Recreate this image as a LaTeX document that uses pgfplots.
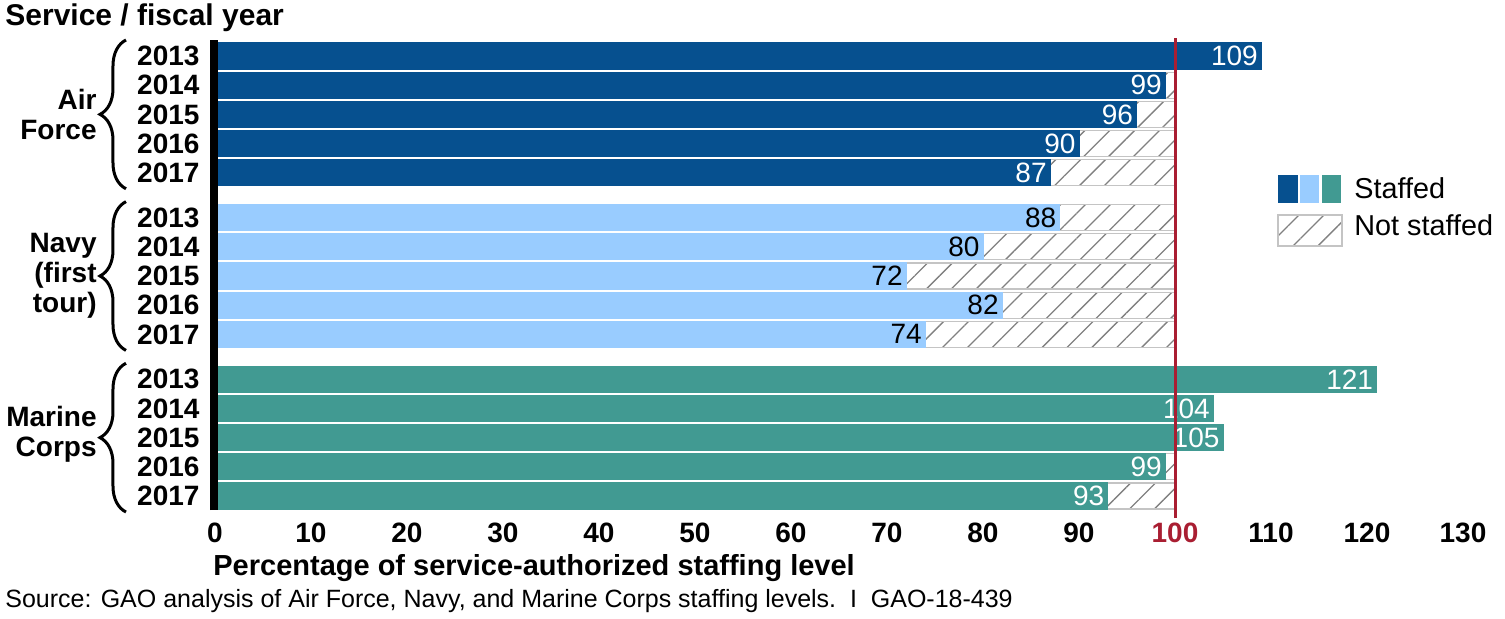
\documentclass[border=0pt]{standalone}
\usepackage{fontspec}
\setmainfont{Liberation Sans}
\usepackage{pgfplots}
\usepackage{pgfplotstable}
\pgfplotsset{compat=1.18}
\usetikzlibrary{patterns.meta,decorations.pathreplacing}

\definecolor{afblue}{HTML}{06508F}
\definecolor{navyblue}{HTML}{99CCFF}
\definecolor{mcteal}{HTML}{419A92}
\definecolor{refred}{HTML}{A91E32}
\definecolor{hatchgray}{HTML}{808080}
\definecolor{edgegray}{HTML}{C4C4C4}

\newcommand{\lbl}{\fontsize{14}{15}\selectfont}

% rows: Air Force 0..-4, Navy -5.54..-9.54, Marine Corps -11.08..-15.08
\pgfplotstableread{
pos val
0 109
-1 99
-2 96
-3 90
-4 87
}\airforce
\pgfplotstableread{
pos val
-5.54 88
-6.54 80
-7.54 72
-8.54 82
-9.54 74
}\navy
\pgfplotstableread{
pos val
-11.08 121
-12.08 104
-13.08 105
-14.08 99
-15.08 93
}\marines
% authorized level (100) behind every row
\pgfplotstableread{
pos full
0 100
-1 100
-2 100
-3 100
-4 100
-5.54 100
-6.54 100
-7.54 100
-8.54 100
-9.54 100
-11.08 100
-12.08 100
-13.08 100
-14.08 100
-15.08 100
}\authorized

\begin{document}
\begin{tikzpicture}
\begin{axis}[
  scale only axis, width=624pt, height=234pt,
  xmin=0, xmax=130, ymin=-15.56, ymax=0.48,
  enlargelimits=false, clip=false,
  xbar, bar width=13pt, bar shift=0pt,
  axis line style={draw=none}, major tick length=0pt,
  xtick={0,10,...,130},
  xticklabels={0,10,20,30,40,50,60,70,80,90,\textcolor{refred}{100},110,120,130},
  ytick={0,-1,-2,-3,-4,-5.54,-6.54,-7.54,-8.54,-9.54,-11.08,-12.08,-13.08,-14.08,-15.08},
  yticklabels={2013,2014,2015,2016,2017,2013,2014,2015,2016,2017,2013,2014,2015,2016,2017},
  tick label style={font=\lbl\bfseries},
  yticklabel style={xshift=-4.2pt},
  xticklabel style={yshift=-3pt},
  nodes near coords style={anchor=east, font=\lbl, inner sep=1.5pt},
]
\addplot[draw=edgegray, line width=0.6pt,
  pattern={Lines[angle=45,distance=8.8pt,line width=0.65pt]}, pattern color=hatchgray]
  table[x=full, y=pos] {\authorized};
\addplot[fill=afblue, draw=afblue, line width=0.6pt, point meta=explicit symbolic,
  nodes near coords, every node near coord/.append style={text=white}]
  table[x=val, y=pos, meta=val] {\airforce};
\addplot[fill=navyblue, draw=navyblue, line width=0.6pt, point meta=explicit symbolic,
  nodes near coords, every node near coord/.append style={text=black}]
  table[x=val, y=pos, meta=val] {\navy};
\addplot[fill=mcteal, draw=mcteal, line width=0.6pt, point meta=explicit symbolic,
  nodes near coords, every node near coord/.append style={text=white}]
  table[x=val, y=pos, meta=val] {\marines};

% service groups
\node[anchor=east, align=right, inner sep=0pt, font=\lbl\bfseries, xshift=-59pt]
  at (axis cs:0,-2) {Air\\Force};
\node[anchor=east, align=right, inner sep=0pt, font=\lbl\bfseries, xshift=-59pt]
  at (axis cs:0,-7.54) {Navy\\(first\\tour)};
\node[anchor=east, align=right, inner sep=0pt, font=\lbl\bfseries, xshift=-59pt]
  at (axis cs:0,-12.95) {Marine\\Corps};
\draw[line width=1.5pt, decorate, decoration={brace, amplitude=13pt}]
  ([xshift=-44.5pt]axis cs:0,-4.55) -- ([xshift=-44.5pt]axis cs:0,0.55);
\draw[line width=1.5pt, decorate, decoration={brace, amplitude=13pt}]
  ([xshift=-44.5pt]axis cs:0,-10.09) -- ([xshift=-44.5pt]axis cs:0,-4.99);
\draw[line width=1.5pt, decorate, decoration={brace, amplitude=13pt}]
  ([xshift=-44.5pt]axis cs:0,-15.63) -- ([xshift=-44.5pt]axis cs:0,-10.53);
\end{axis}

% axis line at 0 and authorized level at 100
\draw[line width=4pt] (-0.5pt,0) -- (-0.5pt,235pt);
\draw[refred, line width=1.5pt] (480pt,-4pt) -- (480pt,236pt);

% legend
\fill[afblue] (531.5pt,153.5pt) rectangle (541.5pt,167.5pt);
\fill[navyblue] (542.5pt,153.5pt) rectangle (552pt,167.5pt);
\fill[mcteal] (553.5pt,153.5pt) rectangle (563pt,167.5pt);
\draw[edgegray, line width=0.6pt,
  pattern={Lines[angle=45,distance=8.8pt,line width=0.65pt]}, pattern color=hatchgray]
  (531.5pt,132pt) rectangle (563.5pt,147.5pt);
\node[anchor=base west, inner sep=0pt, font=\fontsize{14.4}{16}\selectfont] at (569.5pt,156pt) {Staffed};
\node[anchor=base west, inner sep=0pt, font=\fontsize{14.4}{16}\selectfont] at (569.5pt,137.5pt) {Not staffed};

% titles and source
\node[anchor=base west, inner sep=0pt, font=\fontsize{15}{16}\selectfont\bfseries] at (-105pt,242.5pt) {Service / fiscal year};
\node[anchor=base west, inner sep=0pt, font=\fontsize{14.5}{16}\selectfont\bfseries] at (-1pt,-32.5pt) {Percentage of service-authorized staffing level};
\node[anchor=base west, inner sep=0pt, font=\fontsize{12.5}{14}\selectfont] at (-105pt,-48.5pt)
  {Source: GAO analysis of Air Force, Navy, and Marine Corps staffing levels.\ \ I\ \ GAO-18-439};

\pgfresetboundingbox
\path[use as bounding box] (-107.5pt,-54pt) rectangle (645pt,255pt);
\end{tikzpicture}
\end{document}
